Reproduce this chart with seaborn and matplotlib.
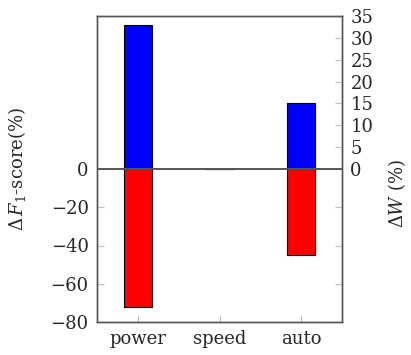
import matplotlib
matplotlib.use("Agg")
import matplotlib.pyplot as plt
import seaborn as sns
import pandas as pd

categories = ["power", "speed", "auto"]
delta_f1 = [-72, 0, -45]
delta_w = [33, 0, 15]
left_ticks = [-80, -60, -40, -20, 0]
right_ticks = [0, 5, 10, 15, 20, 25, 30, 35]

sns.set_style("white")
plt.rcParams["font.family"] = ["DejaVu Serif"]
plt.rcParams["mathtext.fontset"] = "dejavuserif"

df = pd.DataFrame({"cat": categories, "f1": delta_f1, "w": delta_w})

fig = plt.figure(figsize=(4.11, 3.55), dpi=100)
ax = fig.add_axes([97 / 411, 1 - 322 / 355, 245 / 411, 306 / 355])
ax2 = ax.twinx()

sns.barplot(data=df, x="cat", y="f1", ax=ax, color="#ff0000", saturation=1,
            width=0.35, edgecolor="black", linewidth=0.8)
sns.barplot(data=df, x="cat", y="w", ax=ax2, color="#0000ff", saturation=1,
            width=0.35, edgecolor="black", linewidth=0.8)

ax.set_xlim(-0.5, 2.5)
ax.set_ylim(-80, 80)
ax2.set_ylim(-35, 35)
ax.set_yticks(left_ticks)
ax2.set_yticks(right_ticks)
ax2.axhline(0, color="#555555", lw=1.4, zorder=10)

fs = 13
ax.set_xlabel("")
ax.set_ylabel(r"$\Delta\,F_1$-score(%)", fontsize=fs)
ax2.set_ylabel(r"$\Delta W$ (%)", fontsize=fs)
ax.yaxis.set_label_coords(-0.28, 0.5)
ax2.yaxis.set_label_coords(1.18, 0.42)

ax.tick_params(axis="y", direction="in", left=True, right=True, length=5,
               width=0.8, color="#c0c0c0", labelsize=fs, pad=6)
ax.tick_params(axis="x", direction="in", bottom=True, length=5, width=0.8,
               color="#c0c0c0", labelsize=fs, pad=6)
ax2.tick_params(axis="y", direction="in", right=True, left=False, length=5,
                width=0.8, color="#c0c0c0", labelsize=fs, pad=6)

for a in (ax, ax2):
    for s in a.spines.values():
        s.set_color("#555555")
        s.set_linewidth(1.0)

fig.savefig("out.png", dpi=100)
